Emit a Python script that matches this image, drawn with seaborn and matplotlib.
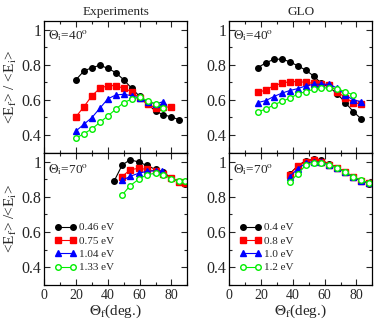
import matplotlib
matplotlib.use("Agg")
import matplotlib.pyplot as plt
from matplotlib.ticker import MultipleLocator, FixedLocator, FixedFormatter
import seaborn as sns

# --- data ---
energies_exp = ["0.46 eV", "0.75 eV", "1.04 eV", "1.33 eV"]
energies_glo = ["0.4 eV", "0.8 eV", "1.0 eV", "1.2 eV"]

# Experiments, theta_i = 40
exp40_x_a = [20, 25, 30, 35, 40, 45, 50, 55, 60, 65, 70, 75, 80, 85]
exp40_a = [0.715, 0.765, 0.783, 0.797, 0.779, 0.755, 0.714, 0.666, 0.62, 0.578, 0.535, 0.516, 0.503, 0.487]
exp40_x_b = [20, 25, 30, 35, 40, 45, 50, 55, 60, 65, 70, 75, 80]
exp40_b = [0.505, 0.562, 0.624, 0.666, 0.681, 0.681, 0.666, 0.647, 0.609, 0.574, 0.556, 0.56, 0.559]
exp40_x_c = [20, 25, 30, 35, 40, 45, 50, 55, 60, 65, 70, 75]
exp40_c = [0.424, 0.462, 0.50, 0.553, 0.606, 0.628, 0.632, 0.624, 0.61, 0.59, 0.578, 0.59]
exp40_x_d = [20, 25, 30, 35, 40, 45, 50, 55, 60, 65, 70, 75]
exp40_d = [0.383, 0.408, 0.436, 0.472, 0.509, 0.547, 0.585, 0.604, 0.615, 0.596, 0.577, 0.556]

# Experiments, theta_i = 70
exp70_x_a = [44, 49, 54, 59.5, 64.5, 70, 75, 80, 85, 88.5]
exp70_a = [0.89, 0.98, 1.01, 0.997, 0.978, 0.955, 0.94, 0.905, 0.885, 0.875]
exp70_x_b = [49, 54, 59.5, 64.5, 70, 75, 80, 85, 88.5]
exp70_b = [0.915, 0.953, 0.962, 0.955, 0.945, 0.93, 0.905, 0.885, 0.878]
exp70_x_c = [49, 54, 59.5, 64.5, 70, 74]
exp70_c = [0.893, 0.916, 0.934, 0.944, 0.948, 0.945]
exp70_x_d = [49, 54, 59.5, 64.5, 70, 75, 80, 85, 88.5]
exp70_d = [0.81, 0.863, 0.9, 0.925, 0.934, 0.925, 0.902, 0.887, 0.887]

# GLO, theta_i = 40
glo40_x = [18, 23, 28, 33, 38, 43, 48, 53, 58, 63, 68, 73, 78, 83]
glo40_a = [0.783, 0.811, 0.830, 0.832, 0.817, 0.794, 0.770, 0.736, 0.694, 0.672, 0.634, 0.585, 0.534, 0.492]
glo40_b = [0.643, 0.656, 0.681, 0.694, 0.704, 0.704, 0.700, 0.694, 0.690, 0.685, 0.647, 0.613, 0.585, 0.576]
glo40_c = [0.585, 0.596, 0.619, 0.638, 0.653, 0.664, 0.679, 0.689, 0.689, 0.689, 0.666, 0.628, 0.600, 0.590]
glo40_x_d = [18, 23, 28, 33, 38, 43, 48, 53, 58, 63, 68, 73, 78]
glo40_d = [0.534, 0.547, 0.572, 0.591, 0.610, 0.632, 0.647, 0.660, 0.666, 0.670, 0.662, 0.647, 0.628]

# GLO, theta_i = 70
glo70_x = [38, 43, 48, 53, 58, 63, 68, 73, 78, 83, 88]
glo70_a = [0.93, 0.975, 1.005, 1.012, 1.008, 0.985, 0.965, 0.94, 0.91, 0.89, 0.875]
glo70_b = [0.925, 0.975, 1.0, 1.008, 1.0, 0.982, 0.963, 0.94, 0.912, 0.89, 0.878]
glo70_c = [0.912, 0.96, 0.99, 1.0, 0.995, 0.98, 0.962, 0.94, 0.913, 0.89, 0.877]
glo70_d = [0.884, 0.929, 0.978, 0.991, 0.991, 0.981, 0.963, 0.940, 0.915, 0.893, 0.878]

colors = ["black", "#ff0000", "#0000ff", "#00ee00"]
markers = ["o", "s", "^", "o"]

sns.set_style("ticks")
plt.rcParams["font.family"] = ["Liberation Serif", "DejaVu Serif"]
plt.rcParams["mathtext.fontset"] = "stix"

fig = plt.figure(figsize=(3.74, 3.22), dpi=100)
W, H = 374, 322
def box(x0, y_top, y_bot, w=143):
    return [x0 / W, (H - y_bot) / H, w / W, (y_bot - y_top) / H]

ax_tl = fig.add_axes(box(44.3, 20.7, 152.7))
ax_tr = fig.add_axes(box(229.3, 20.7, 152.7))
ax_bl = fig.add_axes(box(44.3, 152.7, 285))
ax_br = fig.add_axes(box(229.3, 152.7, 285))


def draw(ax, series, labels=None):
    for i, (xs, ys) in enumerate(series):
        open_marker = i == 3
        sns.lineplot(
            x=xs, y=ys, ax=ax, color=colors[i], marker=markers[i],
            markersize=4.0 if i != 2 else 4.6, linewidth=0.8,
            markeredgecolor=colors[i], markeredgewidth=1.0,
            markerfacecolor="white" if open_marker else colors[i],
            label=labels[i] if labels else None, legend=False,
            sort=False, estimator=None,
        )


draw(ax_tl, [(exp40_x_a, exp40_a), (exp40_x_b, exp40_b), (exp40_x_c, exp40_c), (exp40_x_d, exp40_d)])
draw(ax_bl, [(exp70_x_a, exp70_a), (exp70_x_b, exp70_b), (exp70_x_c, exp70_c), (exp70_x_d, exp70_d)],
     energies_exp)
draw(ax_tr, [(glo40_x, glo40_a), (glo40_x, glo40_b), (glo40_x, glo40_c), (glo40_x_d, glo40_d)])
draw(ax_br, [(glo70_x, glo70_a), (glo70_x, glo70_b), (glo70_x, glo70_c), (glo70_x, glo70_d)],
     energies_glo)

for ax in (ax_tl, ax_tr, ax_bl, ax_br):
    ax.set_xlim(0, 90)
    ax.set_ylim(0.3, 1.05)
    ax.xaxis.set_major_locator(MultipleLocator(20))
    ax.xaxis.set_minor_locator(MultipleLocator(10))
    ax.yaxis.set_major_locator(FixedLocator([0.4, 0.6, 0.8, 1.0]))
    ax.yaxis.set_major_formatter(FixedFormatter(["0.4", "0.6", "0.8", "1"]))
    ax.yaxis.set_minor_locator(MultipleLocator(0.1))
    ax.tick_params(which="both", direction="in", top=True, right=True, width=0.8)
    ax.tick_params(which="major", length=4)
    ax.tick_params(which="minor", length=2)
    ax.tick_params(axis="y", labelsize=11.5, pad=2)
    ax.tick_params(axis="x", labelsize=10, pad=3)
    for sp in ax.spines.values():
        sp.set_linewidth(0.9)
        sp.set_color("black")
    ax.set_xlabel("")
    ax.set_ylabel("")

for ax in (ax_tl, ax_tr):
    ax.tick_params(axis="x", labelbottom=False)

ax_tl.set_title("Experiments", fontsize=9.5, pad=4)
ax_tr.set_title("GLO", fontsize=9.5, pad=4)

for ax in (ax_tl, ax_tr):
    ax.text(0.025, 0.885, r"$\Theta_{\rm i}$=40$^{\rm o}$", transform=ax.transAxes,
            fontsize=9.5, va="center", ha="left")
for ax in (ax_bl, ax_br):
    ax.text(0.025, 0.87, r"$\Theta_{\rm i}$=70$^{\rm o}$", transform=ax.transAxes,
            fontsize=9.5, va="center", ha="left")

ax_tl.set_ylabel(r"<E$_{\rm f}$> / <E$_{\rm i}$>", fontsize=11, labelpad=2)
ax_bl.set_ylabel(r"<E$_{\rm f}$> /<E$_{\rm i}$>", fontsize=11, labelpad=2)
for ax in (ax_bl, ax_br):
    ax.set_xlabel(r"$\Theta_{\rm f}$(deg.)", fontsize=11, labelpad=0)
    ax.legend(loc="lower left", bbox_to_anchor=(0.075, 0.095), frameon=False,
              fontsize=8, handlelength=1.9, handletextpad=0.3, labelspacing=0.32,
              borderpad=0, borderaxespad=0, numpoints=2)

fig.savefig("out.png", dpi=100)
